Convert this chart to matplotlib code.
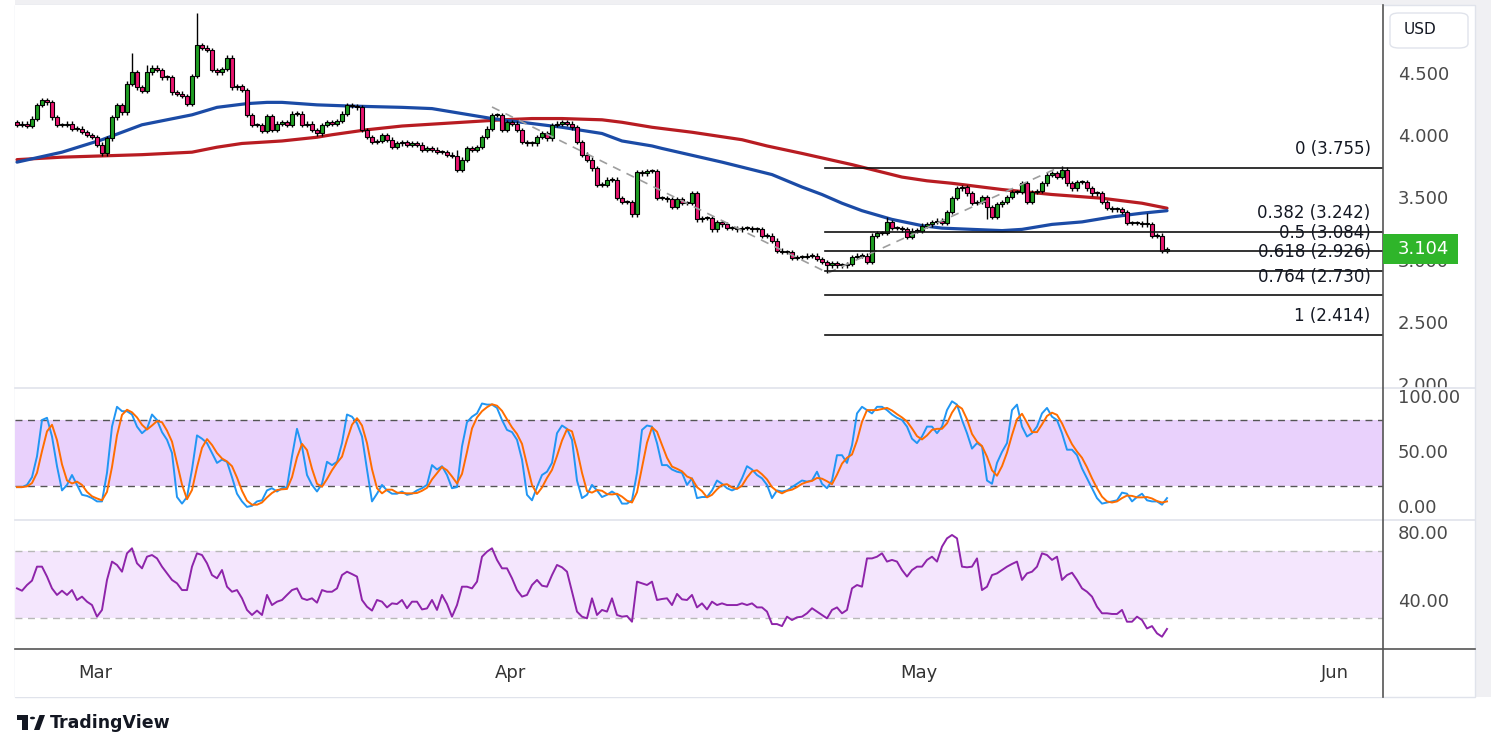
import numpy as np
import pandas as pd
import matplotlib
matplotlib.use("Agg")
import matplotlib.pyplot as plt
from matplotlib.patches import Rectangle, FancyBboxPatch, Circle, Polygon
from matplotlib.lines import Line2D
from matplotlib.transforms import Bbox

W, H = 1491, 750

# ---- price data (4h candles) ----
closes = [
    4.10, 4.11, 4.09, 4.15, 4.26, 4.30, 4.28, 4.16, 4.10, 4.10,
    4.11, 4.07, 4.07, 4.04, 4.02, 4.00, 3.94, 3.87, 3.99, 4.16,
    4.26, 4.20, 4.43, 4.52, 4.40, 4.37, 4.52, 4.56, 4.54, 4.48,
    4.48, 4.36, 4.35, 4.33, 4.27, 4.49, 4.74, 4.72, 4.70, 4.54,
    4.52, 4.55, 4.64, 4.40, 4.41, 4.38, 4.18, 4.10, 4.10, 4.05,
    4.17, 4.06, 4.11, 4.12, 4.10, 4.19, 4.19, 4.10, 4.11, 4.06,
    4.03, 4.10, 4.12, 4.11, 4.13, 4.19, 4.26, 4.25, 4.24, 4.06,
    4.00, 3.96, 3.97, 4.02, 3.98, 3.92, 3.95, 3.96, 3.94, 3.95,
    3.94, 3.90, 3.91, 3.90, 3.88, 3.88, 3.86, 3.85, 3.74, 3.82,
    3.91, 3.90, 3.92, 4.00, 4.07, 4.18, 4.18, 4.06, 4.12, 4.11,
    4.06, 3.96, 3.95, 3.95, 4.00, 4.03, 3.99, 4.10, 4.11, 4.12,
    4.11, 4.08, 3.96, 3.86, 3.82, 3.75, 3.62, 3.62, 3.66, 3.66,
    3.51, 3.48, 3.48, 3.38, 3.72, 3.71, 3.73, 3.73, 3.51, 3.51,
    3.50, 3.44, 3.50, 3.47, 3.47, 3.55, 3.34, 3.35, 3.35, 3.26,
    3.32, 3.30, 3.27, 3.27, 3.26, 3.27, 3.27, 3.26, 3.26, 3.21,
    3.21, 3.17, 3.09, 3.08, 3.08, 3.03, 3.04, 3.04, 3.05, 3.05,
    3.02, 3.00, 2.97, 2.99, 2.97, 2.97, 2.98, 3.04, 3.05, 3.05,
    3.00, 3.21, 3.23, 3.23, 3.32, 3.27, 3.27, 3.26, 3.20, 3.25,
    3.25, 3.29, 3.30, 3.32, 3.33, 3.31, 3.40, 3.51, 3.59, 3.60,
    3.55, 3.47, 3.48, 3.52, 3.44, 3.36, 3.46, 3.48, 3.52, 3.56,
    3.56, 3.63, 3.48, 3.56, 3.57, 3.63, 3.70, 3.71, 3.68, 3.74,
    3.63, 3.59, 3.64, 3.64, 3.59, 3.55, 3.55, 3.48, 3.43, 3.42,
    3.42, 3.40, 3.31, 3.31, 3.31, 3.30, 3.30, 3.21, 3.21, 3.09,
    3.104,
]
first_open = 4.12
wick = 0.018
high_marks = {23: 4.68, 26: 4.58, 36: 5.00, 88: 3.90, 174: 3.36, 201: 3.65, 209: 3.77, 226: 3.39}
low_marks = {17: 3.85, 88: 3.72, 123: 3.36, 162: 2.91, 194: 3.34}

# moving averages (bar index, value)
ma_blue_idx = [0, 9, 17, 25, 35, 40, 46, 50, 53, 60, 67, 77, 83, 89, 95, 101, 109, 117, 121,
               127, 129, 141, 151, 157, 161, 165, 169, 175, 181, 185, 191, 197, 201, 207,
               213, 219, 225, 230]
ma_blue = [3.80, 3.88, 3.98, 4.10, 4.18, 4.24, 4.27, 4.28, 4.28, 4.26, 4.25, 4.24, 4.23, 4.19,
           4.15, 4.12, 4.08, 4.03, 3.97, 3.93, 3.91, 3.80, 3.70, 3.60, 3.54, 3.47, 3.41, 3.34,
           3.29, 3.27, 3.26, 3.25, 3.26, 3.30, 3.32, 3.36, 3.39, 3.41]
ma_red_idx = [0, 9, 17, 25, 35, 40, 45, 53, 60, 63, 70, 77, 85, 97, 103, 109, 117, 121, 127,
              135, 145, 150, 157, 167, 172, 177, 182, 187, 197, 207, 217, 225, 230]
ma_red = [3.82, 3.84, 3.85, 3.86, 3.88, 3.92, 3.95, 3.97, 4.00, 4.02, 4.06, 4.09, 4.11, 4.14,
          4.15, 4.15, 4.14, 4.12, 4.08, 4.04, 3.98, 3.93, 3.87, 3.78, 3.73, 3.68, 3.65, 3.63,
          3.58, 3.54, 3.51, 3.47, 3.43]

# trend based fib extension
fib_ratios = ["0", "0.382", "0.5", "0.618", "0.764", "1"]
fib_prices = [3.755, 3.242, 3.084, 2.926, 2.730, 2.414]
fib_start = 161.6
trend_idx = [95, 162.2, 208.2]
trend_px = [4.243, 2.91, 3.755]

# stochastic %K, %D is its 3 bar average
stoch_k = [
    19, 19, 21, 28, 47, 80, 82, 65, 38, 16,
    21, 30, 21, 12, 11, 9, 6, 6, 32, 74,
    92, 88, 88, 85, 74, 68, 72, 85, 80, 69,
    62, 50, 10, 4, 10, 35, 66, 63, 59, 50,
    41, 44, 42, 28, 13, 6, 1, 2, 6, 7,
    16, 18, 15, 18, 19, 47, 72, 56, 30, 21,
    15, 22, 42, 39, 42, 59, 85, 83, 77, 65,
    35, 6, 13, 21, 16, 13, 13, 15, 12, 13,
    16, 18, 21, 39, 35, 38, 30, 18, 19, 56,
    78, 83, 86, 95, 94, 94, 91, 80, 71, 69,
    62, 44, 12, 7, 19, 30, 33, 41, 68, 75,
    72, 62, 25, 9, 12, 21, 16, 10, 12, 15,
    12, 4, 4, 7, 32, 71, 75, 74, 59, 39,
    39, 35, 33, 32, 21, 27, 9, 10, 10, 16,
    25, 22, 18, 16, 18, 27, 38, 35, 30, 27,
    21, 9, 16, 15, 16, 19, 22, 25, 24, 25,
    33, 22, 18, 25, 48, 48, 41, 57, 86, 92,
    89, 86, 92, 92, 89, 85, 82, 80, 74, 63,
    59, 65, 74, 74, 68, 74, 89, 97, 94, 80,
    68, 54, 59, 56, 25, 22, 41, 51, 59, 89,
    94, 74, 65, 68, 74, 86, 91, 83, 80, 68,
    53, 53, 48, 36, 27, 18, 9, 4, 5, 6,
    7, 14, 13, 6, 10, 13, 7, 6, 6, 3, 9,
]

rsi = [
    47.8, 46.4, 49.8, 52.4, 60.7, 60.7, 54.8, 47.8, 43.9, 46.4,
    43.9, 46.8, 40.9, 42.9, 39.9, 37.9, 31.0, 35.0, 52.8, 63.7,
    61.7, 57.7, 68.6, 71.6, 62.7, 59.7, 66.6, 67.6, 65.6, 60.7,
    56.7, 52.8, 50.8, 46.8, 46.8, 60.7, 68.6, 67.6, 62.7, 55.7,
    53.8, 58.7, 48.8, 45.8, 46.8, 41.9, 35.0, 32.0, 34.6, 32.0,
    43.9, 37.9, 39.9, 40.9, 43.9, 46.8, 47.8, 41.9, 40.9, 41.9,
    39.3, 46.8, 45.8, 45.8, 47.8, 55.7, 57.7, 56.3, 54.8, 40.9,
    36.9, 34.6, 40.9, 39.9, 36.5, 38.9, 38.5, 40.9, 36.0, 39.9,
    39.9, 35.3, 35.9, 40.9, 35.0, 43.9, 38.5, 31.0, 37.9, 48.8,
    48.8, 47.8, 51.8, 66.6, 69.6, 71.6, 64.7, 59.7, 59.7, 53.8,
    46.8, 42.9, 43.9, 49.8, 52.8, 49.4, 48.8, 55.7, 61.7, 60.3,
    57.7, 45.8, 34.0, 31.0, 30.0, 41.9, 32.0, 35.0, 34.0, 41.9,
    32.0, 31.0, 31.4, 28.0, 51.8, 50.8, 49.8, 51.8, 40.9, 41.5,
    41.9, 37.9, 44.5, 41.3, 40.9, 43.9, 36.5, 38.9, 35.3, 39.9,
    37.9, 38.9, 37.9, 37.9, 37.9, 38.9, 37.9, 38.9, 36.5, 36.5,
    34.0, 26.6, 26.6, 25.4, 31.0, 29.0, 30.6, 31.0, 33.0, 36.0,
    34.0, 32.0, 30.0, 35.0, 36.5, 33.0, 35.0, 47.8, 49.8, 48.8,
    65.6, 65.6, 66.6, 68.6, 63.7, 64.7, 63.7, 58.7, 54.8, 58.7,
    60.7, 60.7, 64.7, 66.6, 63.7, 72.6, 77.5, 79.5, 77.5, 60.7,
    60.3, 60.7, 65.6, 46.8, 48.8, 55.7, 56.7, 58.7, 60.7, 62.3,
    63.7, 52.8, 56.7, 57.7, 60.7, 68.6, 67.6, 64.7, 66.6, 52.8,
    55.7, 57.1, 52.8, 47.8, 45.8, 42.9, 36.9, 33.0, 33.0, 32.6,
    32.6, 35.0, 28.0, 28.0, 31.0, 29.0, 24.0, 25.4, 21.1, 19.1, 23.7,
]

price_ticks = [4.5, 4.0, 3.5, 3.0, 2.5, 2.0]
stoch_ticks = [100, 50, 0]
rsi_ticks = [80, 40]
month_labels = ["Mar", "Apr", "May", "Jun"]
month_pos = [15.6, 98.8, 180.4, 263.6]
last_price = 3.104

GREEN = "#1f9e22"
PINK = "#e8156e"
AXIS_TXT = "#4a4a4a"
XLIM = (-0.4, 273.2)

fig = plt.figure(figsize=(W / 100, H / 100), dpi=100, facecolor="white")


def fig_rect(x0, y0, x1, y1, **kw):
    r = Rectangle((x0 / W, 1 - y1 / H), (x1 - x0) / W, (y1 - y0) / H,
                  transform=fig.transFigure, **kw)
    fig.add_artist(r)
    return r


def fig_line(x0, y0, x1, y1, **kw):
    fig.add_artist(Line2D([x0 / W, x1 / W], [1 - y0 / H, 1 - y1 / H],
                          transform=fig.transFigure, **kw))


def px_axes(x0, y0, x1, y1):
    a = fig.add_axes([x0 / W, 1 - y1 / H, (x1 - x0) / W, (y1 - y0) / H])
    a.set_facecolor("white")
    for s in a.spines.values():
        s.set_visible(False)
    a.set_xticks([])
    a.set_yticks([])
    a.set_xlim(*XLIM)
    return a


# widget frame
fig_rect(15, 0, 1491, 697, facecolor="#f0f0f3", edgecolor="none", zorder=-3)
fig_rect(15, 5, 1475, 697, facecolor="white", edgecolor="#e0e3eb", lw=1, zorder=-2)

ax = px_axes(15, 5, 1383, 388)
ax.set_ylim(1.986, 5.062)
ax_st = px_axes(15, 388, 1383, 520)
ax_st.set_ylim(-10.9, 109.1)
ax_rsi = px_axes(15, 520, 1383, 649)
ax_rsi.set_ylim(11.8, 88.4)
ax_dt = px_axes(15, 649, 1383, 697)
ax_dt.set_ylim(0, 1)

# ---- candles ----
idx = np.arange(len(closes))
c = np.array(closes)
o = np.array([first_open] + closes[:-1])
top = np.maximum(o, c)
bot = np.minimum(o, c)
hi = top + wick
lo = bot - wick
for k, v in high_marks.items():
    hi[k] = v
for k, v in low_marks.items():
    lo[k] = v
cols = [GREEN if cc >= oo else PINK for oo, cc in zip(o, c)]
body = np.maximum(top - bot, 0.008)

ax.plot(ma_red_idx, ma_red, color="#b81c22", lw=2.3, zorder=2,
        solid_capstyle="round", solid_joinstyle="round")
ax.plot(ma_blue_idx, ma_blue, color="#1b4ba6", lw=2.3, zorder=2,
        solid_capstyle="round", solid_joinstyle="round")
ax.vlines(idx, lo, hi, color="black", lw=1.0, zorder=3)
ax.bar(idx, body, bottom=bot, width=0.62, color=cols, edgecolor="black", lw=0.8, zorder=4)

# fib extension
ax.plot(trend_idx, trend_px, color="#9e9e9e", lw=1.2, ls=(0, (5, 4)), zorder=5)
for r, p in zip(fib_ratios, fib_prices):
    ax.plot([fib_start, XLIM[1]], [p, p], color="#111111", lw=1.2, zorder=5)
    ax.annotate(f"{r} ({p:.3f})", xy=(270.7, p), xytext=(0, 13.3),
                textcoords="offset points", ha="right", va="center",
                fontsize=12, color="#131722", zorder=6)

# ---- stochastic ----
k = pd.Series(stoch_k, dtype=float)
d = k.rolling(3, min_periods=1).mean()
ax_st.axhspan(20, 80, color="#e9d1fc", lw=0, zorder=1)
for lvl in (80, 20):
    ax_st.axhline(lvl, color="#555555", lw=1.0, ls=(0, (5, 4)), zorder=2)
ax_st.plot(idx, k, color="#2196f3", lw=1.4, zorder=3)
ax_st.plot(idx, d, color="#ff6d00", lw=1.4, zorder=4)

# ---- RSI ----
ax_rsi.axhspan(30, 70, color="#f4e6fd", lw=0, zorder=1)
for lvl in (70, 30):
    ax_rsi.axhline(lvl, color="#b8b8b8", lw=1.0, ls=(0, (5, 4)), zorder=2)
ax_rsi.plot(idx, rsi, color="#8e24aa", lw=1.4, zorder=3)

# ---- date axis ----
for lab, pos in zip(month_labels, month_pos):
    ax_dt.text(pos, 0.5, lab, ha="center", va="center", fontsize=13, color="#333333")

# ---- separators & axis lines ----
fig_line(15, 388, 1475, 388, color="#e0e3eb", lw=1.2, zorder=5)
fig_line(15, 520, 1475, 520, color="#e0e3eb", lw=1.2, zorder=5)
fig_line(15, 649, 1475, 649, color="#555555", lw=1.2, zorder=5)
fig_line(1383, 5, 1383, 697, color="#555555", lw=1.2, zorder=5)


# ---- right axis labels ----
def right_labels(a, vals, fmt, y_top, y_bot):
    clip = Bbox([[1384, H - y_bot], [1475, H - y_top]])
    for v in vals:
        ypx = a.transData.transform((0, v))[1]
        t = fig.text(1398 / W, ypx / H, fmt.format(v), ha="left", va="center",
                     fontsize=13, color=AXIS_TXT, zorder=4)
        t.set_clip_box(clip)
        t.set_clip_on(True)


right_labels(ax, price_ticks, "{:.3f}", 50, 388)
right_labels(ax_st, stoch_ticks, "{:.2f}", 388, 520)
right_labels(ax_rsi, rsi_ticks, "{:.2f}", 520, 649)

# last price tag
yp = ax.transData.transform((0, last_price))[1]
tag_h = 30
fig.add_artist(Rectangle((1383 / W, (yp - tag_h / 2) / H), 75 / W, tag_h / H,
                         transform=fig.transFigure, facecolor="#2fb52a",
                         edgecolor="none", zorder=6))
fig.text(1398 / W, yp / H, f"{last_price:.3f}", ha="left", va="center",
         fontsize=13, color="white", zorder=7)

# currency box
fig.add_artist(FancyBboxPatch((1390 / W, 1 - 48 / H), 78 / W, 35 / H,
                              boxstyle="round,pad=0,rounding_size=0.006",
                              transform=fig.transFigure, facecolor="white",
                              edgecolor="#e0e3eb", lw=1, zorder=6))
fig.text(1404 / W, 1 - 30 / H, "USD", ha="left", va="center", fontsize=11,
         color="#131722", zorder=7)

# ---- TradingView logo ----
logo_col = "#131722"
fig_rect(17, 715, 28, 720, facecolor=logo_col, edgecolor="none", zorder=6)
fig_rect(22, 715, 28, 730, facecolor=logo_col, edgecolor="none", zorder=6)
fig.add_artist(Circle((32.5 / W, 1 - 718 / H), 2.6 / W, transform=fig.transFigure,
                      facecolor=logo_col, edgecolor="none", zorder=6))
fig.add_artist(Polygon([(34 / W, 1 - 730 / H), (39.5 / W, 1 - 715 / H),
                        (45 / W, 1 - 715 / H), (39.5 / W, 1 - 730 / H)],
                       closed=True, transform=fig.transFigure, facecolor=logo_col,
                       edgecolor="none", zorder=6))
fig.text(50 / W, 1 - 723 / H, "TradingView", ha="left", va="center", fontsize=12.5,
         color=logo_col, fontweight="semibold")

fig.savefig("out.png", dpi=100)
